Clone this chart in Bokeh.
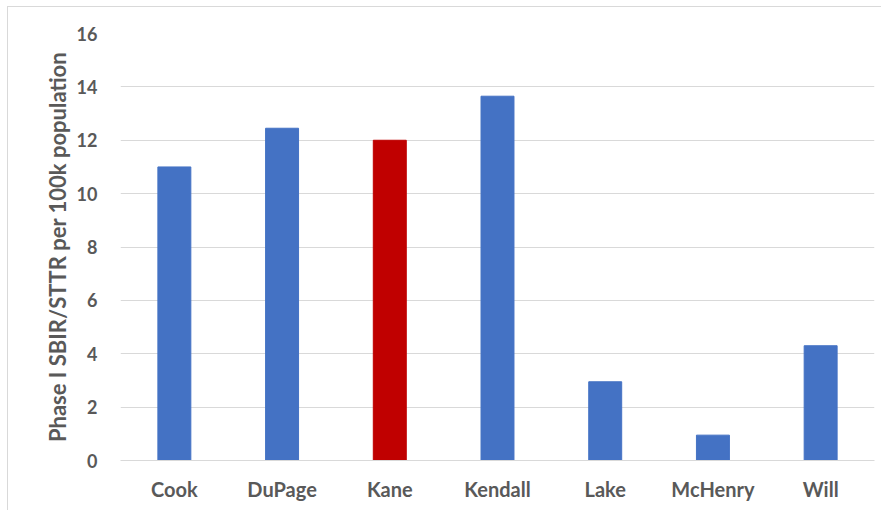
from bokeh.plotting import figure
from bokeh.models import ColumnDataSource, FixedTicker
from bokeh.embed import file_html
from bokeh.resources import INLINE

counties = ["Cook", "DuPage", "Kane", "Kendall", "Lake", "McHenry", "Will"]
values = [11.0, 12.45, 12.0, 13.65, 2.95, 0.95, 4.3]
colors = ["#4472C4", "#4472C4", "#C00000", "#4472C4", "#4472C4", "#4472C4", "#4472C4"]
y_ticks = [0, 2, 4, 6, 8, 10, 12, 14, 16]

src = ColumnDataSource(dict(x=counties, top=values, color=colors))

p = figure(x_range=counties, y_range=(0, 16), width=874, height=504,
           output_backend="svg", toolbar_location=None,
           min_border_left=112, min_border_right=8, min_border_top=26, min_border_bottom=51)
p.vbar(x="x", top="top", width=0.306, color="color", source=src, line_color="color")

font = "Lato"
gray = "#595959"
p.yaxis.ticker = FixedTicker(ticks=y_ticks)
p.yaxis.axis_label = "Phase I SBIR/STTR per 100k population"
p.yaxis.axis_label_text_font = font
p.yaxis.axis_label_text_font_style = "bold"
p.yaxis.axis_label_text_font_size = "22px"
p.yaxis.axis_label_text_color = gray
p.yaxis.axis_label_standoff = 3
p.yaxis.major_label_text_font = font
p.yaxis.major_label_text_font_style = "bold"
p.yaxis.major_label_text_font_size = "18px"
p.yaxis.major_label_text_color = gray
p.yaxis.major_label_standoff = 17
p.yaxis.axis_line_color = None
p.yaxis.major_tick_line_color = None
p.yaxis.minor_tick_line_color = None

p.xaxis.major_label_text_font = font
p.xaxis.major_label_text_font_style = "bold"
p.xaxis.major_label_text_font_size = "20px"
p.xaxis.major_label_text_color = gray
p.xaxis.major_label_standoff = 10
p.xaxis.axis_line_color = "#D9D9D9"
p.xaxis.axis_line_width = 1
p.xaxis.major_tick_line_color = None
p.xaxis.minor_tick_line_color = None

p.xgrid.grid_line_color = None
p.ygrid.grid_line_color = "#D9D9D9"
p.ygrid.grid_line_width = 1
p.outline_line_color = None
p.x_range.range_padding = 0
p.styles = {"margin-top": "6px", "margin-left": "7px",
            "border-top": "1px solid #D9D9D9", "border-left": "1px solid #D9D9D9"}

open("out.html", "w").write(file_html(p, INLINE))
